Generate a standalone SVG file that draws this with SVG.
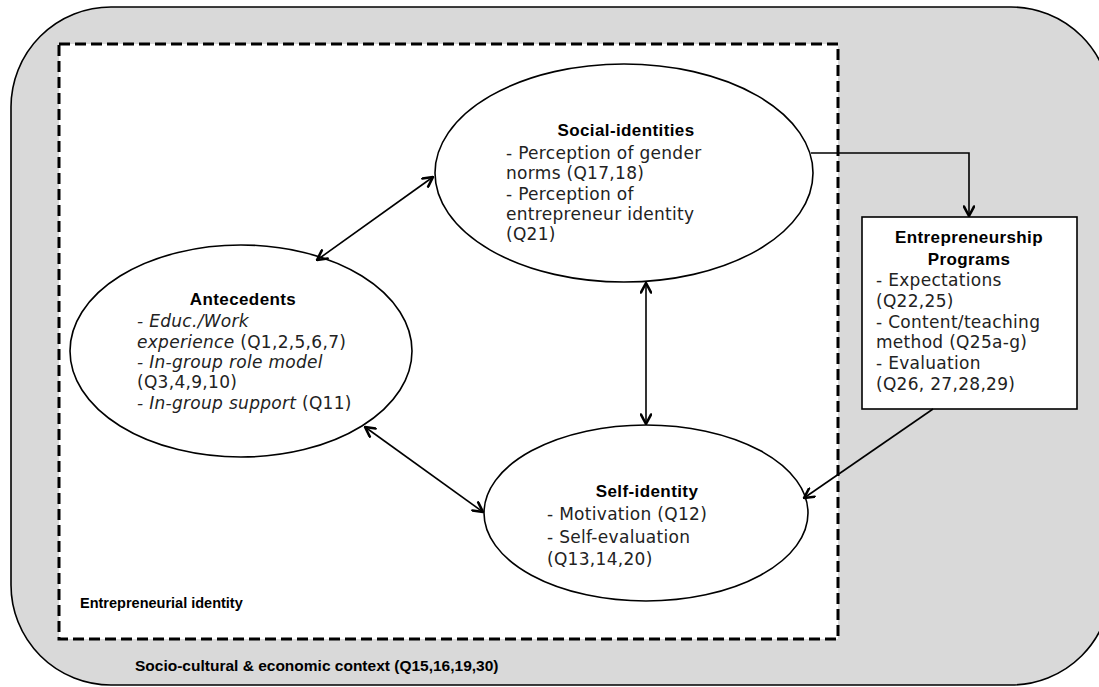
<svg xmlns="http://www.w3.org/2000/svg" width="1099" height="687" viewBox="0 0 1099 687">
  <style>
    .shape { fill: #ffffff; stroke: #000000; stroke-width: 1.6; }
    .title { font-family: "Liberation Sans", Arial, sans-serif; font-weight: bold; font-size: 17px; letter-spacing: 0.4px; fill: #000; }
    .label { font-family: "Liberation Sans", Arial, sans-serif; font-weight: bold; fill: #000; }
    .body { font-family: "DejaVu Sans", "Liberation Sans", sans-serif; font-size: 17px; letter-spacing: 0.3px; fill: #222; }
    .it { font-style: italic; }
    .conn { fill: none; stroke: #000; stroke-width: 1.6; }
  </style>
  <defs>
    <marker id="arrow" viewBox="0 0 12 12" refX="11" refY="6" markerWidth="12" markerHeight="12" markerUnits="userSpaceOnUse" orient="auto-start-reverse">
      <path d="M1.5,1 L11,6 L1.5,11" fill="none" stroke="#000" stroke-width="2.6" stroke-linecap="round" stroke-linejoin="round"/>
    </marker>
  </defs>

  <!-- socio-cultural & economic context -->
  <g id="context">
    <rect x="11" y="7" width="1100" height="678" rx="100" ry="100" fill="#d9d9d9" stroke="#000" stroke-width="1.6"/>
    <text class="label" x="135" y="671" font-size="15.5">Socio-cultural &amp; economic context (Q15,16,19,30)</text>
  </g>

  <!-- entrepreneurial identity frame -->
  <g id="identity-frame">
    <rect x="59" y="44" width="779" height="595" fill="#ffffff" stroke="#000" stroke-width="3" stroke-dasharray="11,5"/>
    <text class="label" x="80" y="608" font-size="14.5">Entrepreneurial identity</text>
  </g>

  <g id="social-identities">
    <ellipse class="shape" cx="624" cy="173" rx="189" ry="109"/>
    <text class="title" x="626" y="136" text-anchor="middle">Social-identities</text>
    <text class="body" x="506" y="159">- Perception of gender</text>
    <text class="body" x="506" y="179">norms (Q17,18)</text>
    <text class="body" x="506" y="200">- Perception of</text>
    <text class="body" x="506" y="220">entrepreneur identity</text>
    <text class="body" x="506" y="240">(Q21)</text>
  </g>

  <g id="antecedents">
    <ellipse class="shape" cx="241" cy="351" rx="171" ry="106"/>
    <text class="title" x="243" y="305" text-anchor="middle">Antecedents</text>
    <text class="body" x="137" y="327"><tspan class="it">- Educ./Work</tspan></text>
    <text class="body" x="137" y="348"><tspan class="it">experience</tspan> (Q1,2,5,6,7)</text>
    <text class="body" x="137" y="368"><tspan class="it">- In-group role model</tspan></text>
    <text class="body" x="137" y="388">(Q3,4,9,10)</text>
    <text class="body" x="137" y="409"><tspan class="it">- In-group support</tspan> (Q11)</text>
  </g>

  <g id="self-identity">
    <ellipse class="shape" cx="646" cy="513" rx="162" ry="88"/>
    <text class="title" x="647" y="497" text-anchor="middle">Self-identity</text>
    <text class="body" x="547" y="520">- Motivation (Q12)</text>
    <text class="body" x="547" y="543">- Self-evaluation</text>
    <text class="body" x="547" y="565">(Q13,14,20)</text>
  </g>

  <g id="entrepreneurship-programs">
    <rect class="shape" x="862" y="217" width="215" height="192"/>
    <text class="title" x="969" y="243" text-anchor="middle">Entrepreneurship</text>
    <text class="title" x="969" y="265" text-anchor="middle">Programs</text>
    <text class="body" x="876" y="286">- Expectations</text>
    <text class="body" x="876" y="307">(Q22,25)</text>
    <text class="body" x="876" y="328">- Content/teaching</text>
    <text class="body" x="876" y="348">method (Q25a-g)</text>
    <text class="body" x="876" y="369">- Evaluation</text>
    <text class="body" x="876" y="390">(Q26, 27,28,29)</text>
  </g>

  <g id="connectors">
    <polyline class="conn" points="811,153 969,153 969,216" marker-end="url(#arrow)"/>
    <line class="conn" x1="933" y1="409" x2="804" y2="498" marker-end="url(#arrow)"/>
    <line class="conn" x1="317" y1="260" x2="433" y2="177" marker-start="url(#arrow)" marker-end="url(#arrow)"/>
    <line class="conn" x1="646" y1="283" x2="646" y2="424" marker-start="url(#arrow)" marker-end="url(#arrow)"/>
    <line class="conn" x1="365" y1="427" x2="483" y2="512" marker-start="url(#arrow)" marker-end="url(#arrow)"/>
  </g>
</svg>
